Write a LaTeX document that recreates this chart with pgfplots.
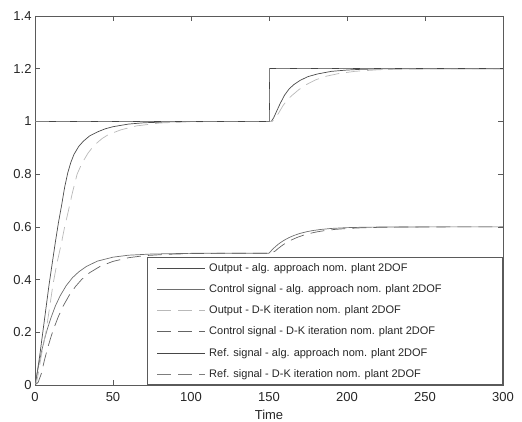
\documentclass[border=0pt]{standalone}
\usepackage{fontspec}
\setmainfont{Liberation Sans}
\usepackage{pgfplots}
\pgfplotsset{compat=1.18}
\definecolor{axiscol}{RGB}{90,90,90}
\definecolor{outalg}{RGB}{75,75,75}
\definecolor{ctlalg}{RGB}{110,110,110}
\definecolor{outdk}{RGB}{185,185,185}
\definecolor{ctldk}{RGB}{100,100,100}
\definecolor{refalg}{RGB}{70,70,70}
\definecolor{refdk}{RGB}{125,125,125}
\begin{document}
\begin{tikzpicture}
\begin{axis}[
  scale only axis, width=468bp, height=369bp,
  xmin=0, xmax=300, ymin=0, ymax=1.4,
  xtick={0,50,100,150,200,250,300},
  ytick={0,0.2,0.4,0.6,0.8,1,1.2,1.4},
  /pgf/number format/assume math mode=true,
  tick label style={font=\fontsize{13bp}{15bp}\selectfont, text=black!85},
  xticklabel style={anchor=center, yshift=-12bp},
  tick align=inside, major tick length=5bp,
  axis line style={color=axiscol, line width=0.6bp},
  tick style={color=axiscol, line width=0.6bp},
  xlabel={Time},
  xlabel style={font=\fontsize{13bp}{15bp}\selectfont, text=black!85, at={(rel axis cs:0.5,0)}, anchor=center, yshift=-30bp},
  legend style={at={(rel axis cs:1,0)}, anchor=south east, draw=axiscol, line width=0.6bp, fill=white,
    font=\fontsize{11bp}{13bp}\selectfont, inner xsep=10bp, inner ysep=0pt, row sep=0pt,
    nodes={minimum height=21.2bp, inner ysep=0pt, inner xsep=3.5bp, text=black!85}},
  legend cell align=left,
  legend image code/.code={\draw[#1] (0bp,0bp) -- (48bp,0bp);},
  every axis plot/.append style={line width=0.7bp},
]
% Output - alg. approach
\addplot[color=outalg, solid] coordinates {
(0,0) (1,0.03) (2,0.07) (3,0.11) (5,0.2) (7,0.29) (9,0.38) (11,0.46) (13,0.54) (15,0.615)
(17,0.68) (19,0.75) (21,0.805) (23,0.845) (25,0.875) (28,0.905) (31,0.925) (35,0.945)
(40,0.96) (45,0.972) (50,0.98) (60,0.99) (70,0.995) (85,0.998) (100,1) (150,1)
(151.5,1.0) (153,1.014) (155,1.04) (157,1.066) (160,1.1) (163,1.124) (166,1.14) (170,1.156)
(175,1.17) (181,1.18) (190,1.19) (200,1.195) (210,1.198) (225,1.1995) (250,1.2) (300,1.2)};
\addlegendentry{\makebox[280bp][l]{Output - alg. approach nom. plant 2DOF}}
% Control signal - alg. approach
\addplot[color=ctlalg, solid] coordinates {
(0,0) (2,0.065) (4,0.122) (6,0.172) (8,0.214) (10,0.251) (13,0.299) (16,0.337) (20,0.377)
(24,0.407) (28,0.429) (33,0.45) (40,0.47) (50,0.485) (60,0.4925) (75,0.497) (100,0.4995) (150,0.5)
(152,0.513) (154,0.5244) (156,0.5344) (158,0.5428) (160,0.5503) (163,0.5597) (166,0.5673)
(170,0.5753) (174,0.5813) (178,0.5859) (183,0.59) (190,0.594) (200,0.597) (210,0.5985)
(225,0.5995) (250,0.5999) (300,0.6)};
\addlegendentry{Control signal - alg. approach nom. plant 2DOF}
% Output - D-K iteration
\addplot[color=outdk, dash pattern=on 14bp off 7bp] coordinates {
(0,0) (1,0.01) (2,0.04) (4,0.11) (7,0.2) (9,0.28) (11.5,0.38) (14,0.46) (17,0.54) (19,0.6)
(21,0.65) (24,0.73) (27,0.8) (30,0.84) (34,0.88) (38,0.91) (43,0.935) (47,0.95) (55,0.968)
(65,0.983) (80,0.994) (100,0.999) (150,1) (152,1.0) (154,1.012) (156,1.03) (159,1.06)
(162,1.084) (165,1.1) (169,1.12) (174,1.14) (180,1.158) (187,1.172) (195,1.182) (205,1.19)
(220,1.196) (240,1.199) (270,1.2) (300,1.2)};
\addlegendentry{Output - D-K iteration nom. plant 2DOF}
% Control signal - D-K iteration
\addplot[color=ctldk, dash pattern=on 14bp off 7bp] coordinates {
(0,0) (2,0.01) (4,0.042) (6,0.093) (8,0.138) (10,0.178) (12,0.214) (15,0.26) (18,0.299)
(22,0.341) (26,0.374) (30,0.401) (35,0.426) (42,0.451) (50,0.469) (60,0.483) (70,0.4906)
(85,0.496) (100,0.4985) (120,0.4997) (150,0.5) (152,0.502) (154,0.5084) (156,0.5186)
(158,0.5276) (160,0.5356) (162,0.5428) (165,0.552) (168,0.5598) (172,0.5682) (176,0.5748)
(180,0.5802) (185,0.5852) (192,0.5902) (200,0.5938) (210,0.5966) (220,0.5981) (235,0.5992)
(250,0.5997) (270,0.5999) (300,0.6)};
\addlegendentry{Control signal - D-K iteration nom. plant 2DOF}
% Ref. signal - alg. approach
\addplot[color=refalg, solid] coordinates {(0,1) (150,1) (150,1.2) (300,1.2)};
\addlegendentry{Ref. signal - alg. approach nom. plant 2DOF}
% Ref. signal - D-K iteration
\addplot[color=refdk, dash pattern=on 14bp off 7bp] coordinates {(0,1) (150,1) (150,1.2) (300,1.2)};
\addlegendentry{Ref. signal - D-K iteration nom. plant 2DOF}
\end{axis}
\pgfresetboundingbox
\path[use as bounding box] ([shift={(-35bp,-37bp)}]current axis.south west) rectangle ([shift={(19bp,16bp)}]current axis.north east);
\end{tikzpicture}
\end{document}
